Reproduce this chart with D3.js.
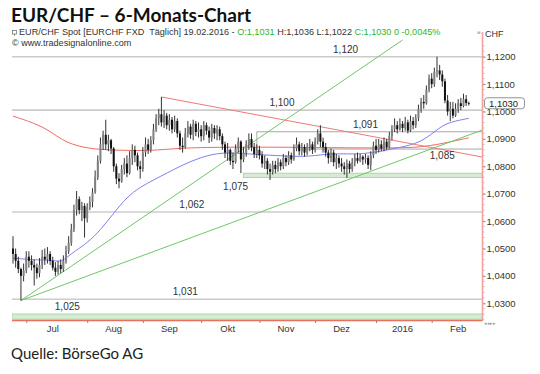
<!DOCTYPE html>
<html>
<head>
<meta charset="utf-8">
<title>EUR/CHF - 6-Monats-Chart</title>
<script src="https://d3js.org/d3.v7.min.js"></script>
<style>
	body { margin: 0; background: #fff; }
	svg { display: block; font-family: "Liberation Sans", Arial, sans-serif; }
	.title { font-family: Lato, "Open Sans", sans-serif; font-weight: bold; font-size: 19px; fill: #111; }
	.source { font-family: Lato, "Open Sans", sans-serif; font-size: 15px; fill: #222; }
	.info { font-size: 9.1px; fill: #333; }
	.lvl { font-size: 10px; fill: #333; }
	.axis text { font-size: 9.5px; fill: #333; }
</style>
</head>
<body>
<svg id="chart" width="540" height="374"></svg>
<script>
// daily bars EUR/CHF, 24.06.2015 - 19.02.2016 (open = previous close)
var firstOpen = 1.0500;
var closes = [
	1.0480, 1.0455, 1.0425, 1.0400, 1.0420, 1.0470, 1.0455, 1.0440, 1.0430, 1.0410,
	1.0440, 1.0470, 1.0460, 1.0480, 1.0455, 1.0430, 1.0415, 1.0440, 1.0425, 1.0455,
	1.0490, 1.0520, 1.0570, 1.0640, 1.0680, 1.0640, 1.0655, 1.0610, 1.0650, 1.0670,
	1.0705, 1.0760, 1.0820, 1.0880, 1.0915, 1.0880, 1.0895, 1.0865, 1.0800, 1.0755,
	1.0745, 1.0790, 1.0810, 1.0775, 1.0830, 1.0860, 1.0840, 1.0800, 1.0790, 1.0850,
	1.0880, 1.0860, 1.0895, 1.0935, 1.0975, 1.0990, 1.0960, 1.0985, 1.0950, 1.0970,
	1.0935, 1.0965, 1.0920, 1.0875, 1.0870, 1.0920, 1.0945, 1.0915, 1.0955, 1.0925,
	1.0935, 1.0910, 1.0950, 1.0930, 1.0905, 1.0940, 1.0920, 1.0935, 1.0910, 1.0880,
	1.0850, 1.0860, 1.0820, 1.0815, 1.0865, 1.0890, 1.0825, 1.0850, 1.0880, 1.0900,
	1.0870, 1.0845, 1.0860, 1.0840, 1.0810, 1.0820, 1.0790, 1.0780, 1.0805, 1.0790,
	1.0815, 1.0800, 1.0830, 1.0815, 1.0840, 1.0825, 1.0865, 1.0880, 1.0855, 1.0870,
	1.0850, 1.0870, 1.0880, 1.0860, 1.0890, 1.0920, 1.0890, 1.0870, 1.0850, 1.0830,
	1.0850, 1.0815, 1.0830, 1.0810, 1.0800, 1.0790, 1.0810, 1.0790, 1.0815, 1.0830,
	1.0820, 1.0835, 1.0825, 1.0830, 1.0805, 1.0840, 1.0875, 1.0860, 1.0880, 1.0865,
	1.0890, 1.0870, 1.0910, 1.0935, 1.0950, 1.0935, 1.0955, 1.0940, 1.0960, 1.0930,
	1.0965, 1.0950, 1.0975, 1.1010, 1.1035, 1.1030, 1.1080, 1.1120, 1.1100, 1.1145,
	1.1150, 1.1135, 1.1110, 1.1040, 1.1000, 1.1010, 1.0985, 1.1010, 1.1030, 1.1020,
	1.1045, 1.1031, 1.1030
];
var highs = [
	1.0545, 1.0500, 1.0470, 1.0430, 1.0445, 1.0490, 1.0490, 1.0475, 1.0460, 1.0445,
	1.0465, 1.0495, 1.0500, 1.0505, 1.0490, 1.0470, 1.0450, 1.0455, 1.0460, 1.0475,
	1.0510, 1.0545, 1.0590, 1.0660, 1.0710, 1.0690, 1.0670, 1.0665, 1.0665, 1.0690,
	1.0720, 1.0785, 1.0840, 1.0905, 1.0930, 1.0970, 1.0915, 1.0900, 1.0870, 1.0810,
	1.0775, 1.0805, 1.0830, 1.0840, 1.0855, 1.0880, 1.0875, 1.0850, 1.0820, 1.0870,
	1.0905, 1.0900, 1.0910, 1.0955, 1.0990, 1.1010, 1.1053, 1.1005, 1.0995, 1.0990,
	1.0980, 1.0985, 1.0975, 1.0930, 1.0905, 1.0940, 1.0965, 1.0955, 1.0970, 1.0965,
	1.0960, 1.0950, 1.0965, 1.0960, 1.0945, 1.0955, 1.0950, 1.0950, 1.0945, 1.0920,
	1.0890, 1.0885, 1.0865, 1.0850, 1.0880, 1.0905, 1.0895, 1.0870, 1.0895, 1.0920,
	1.0920, 1.0885, 1.0880, 1.0875, 1.0855, 1.0840, 1.0830, 1.0810, 1.0820, 1.0820,
	1.0830, 1.0825, 1.0845, 1.0840, 1.0855, 1.0850, 1.0880, 1.0905, 1.0890, 1.0885,
	1.0880, 1.0885, 1.0900, 1.0890, 1.0905, 1.0935, 1.0950, 1.0905, 1.0885, 1.0860,
	1.0865, 1.0860, 1.0845, 1.0840, 1.0830, 1.0815, 1.0825, 1.0820, 1.0830, 1.0845,
	1.0850, 1.0845, 1.0840, 1.0845, 1.0840, 1.0855, 1.0890, 1.0900, 1.0900, 1.0895,
	1.0905, 1.0900, 1.0925, 1.0950, 1.0975, 1.0965, 1.0975, 1.0965, 1.0980, 1.0970,
	1.0985, 1.0980, 1.0990, 1.1025, 1.1050, 1.1060, 1.1095, 1.1135, 1.1140, 1.1160,
	1.1200, 1.1170, 1.1150, 1.1120, 1.1060, 1.1035, 1.1035, 1.1030, 1.1045, 1.1050,
	1.1065, 1.1060, 1.1036
];
var lows = [
	1.0445, 1.0430, 1.0410, 1.0310, 1.0380, 1.0410, 1.0430, 1.0420, 1.0365, 1.0390,
	1.0395, 1.0425, 1.0440, 1.0445, 1.0440, 1.0420, 1.0400, 1.0405, 1.0410, 1.0415,
	1.0445, 1.0480, 1.0510, 1.0560, 1.0620, 1.0625, 1.0600, 1.0540, 1.0595, 1.0640,
	1.0650, 1.0700, 1.0750, 1.0810, 1.0860, 1.0860, 1.0855, 1.0845, 1.0780, 1.0735,
	1.0720, 1.0740, 1.0770, 1.0760, 1.0770, 1.0805, 1.0815, 1.0785, 1.0755, 1.0780,
	1.0835, 1.0845, 1.0850, 1.0880, 1.0925, 1.0950, 1.0945, 1.0940, 1.0935, 1.0930,
	1.0920, 1.0925, 1.0905, 1.0860, 1.0850, 1.0865, 1.0905, 1.0900, 1.0895, 1.0910,
	1.0905, 1.0890, 1.0895, 1.0915, 1.0885, 1.0890, 1.0900, 1.0895, 1.0895, 1.0860,
	1.0830, 1.0820, 1.0805, 1.0790, 1.0810, 1.0850, 1.0775, 1.0815, 1.0835, 1.0860,
	1.0855, 1.0830, 1.0830, 1.0825, 1.0795, 1.0790, 1.0770, 1.0750, 1.0770, 1.0775,
	1.0780, 1.0785, 1.0790, 1.0800, 1.0805, 1.0810, 1.0820, 1.0855, 1.0840, 1.0840,
	1.0835, 1.0840, 1.0855, 1.0845, 1.0850, 1.0880, 1.0870, 1.0850, 1.0835, 1.0810,
	1.0815, 1.0800, 1.0790, 1.0795, 1.0780, 1.0770, 1.0758, 1.0775, 1.0780, 1.0800,
	1.0810, 1.0815, 1.0805, 1.0810, 1.0790, 1.0786, 1.0830, 1.0845, 1.0850, 1.0855,
	1.0855, 1.0860, 1.0865, 1.0895, 1.0925, 1.0920, 1.0930, 1.0925, 1.0930, 1.0920,
	1.0925, 1.0935, 1.0940, 1.0965, 1.0995, 1.1010, 1.1025, 1.1070, 1.1085, 1.1090,
	1.1125, 1.1115, 1.1090, 1.1030, 1.0985, 1.0965, 1.0975, 1.0980, 1.0995, 1.1005,
	1.1015, 1.1020, 1.1022
];

// moving averages, read at bar index
var blueMA = [[0, 1.0465], [8, 1.0458], [14, 1.0458], [18, 1.0451], [20, 1.0465], [24, 1.0495],
	[28, 1.0520], [33, 1.0567], [38, 1.0629], [43, 1.0688], [48, 1.0724], [53, 1.0750],
	[58, 1.0775], [64, 1.0805], [71, 1.0834], [79, 1.0852], [89, 1.0845], [101, 1.0838],
	[112, 1.0834], [120, 1.0849], [132, 1.0841], [145, 1.0867], [154, 1.0885], [161, 1.0943],
	[165, 1.0962], [172, 1.0975]];
var redMA = [[0, 1.0983], [8, 1.0958], [14, 1.0929], [20, 1.0885], [29, 1.0863], [38, 1.0859],
	[52, 1.0856], [63, 1.0867], [79, 1.0870], [102, 1.0870], [127, 1.0867], [145, 1.0867],
	[155, 1.0870], [165, 1.0889], [172, 1.0904]];

// trend lines [from index, value, to index, value]
var greenTrends = [[3, 1.0310, 147, 1.1261], [3, 1.0310, 177, 1.0932]];
var redTrend = [56, 1.1053, 177, 1.0834];

// horizontal marks
var levelValues = [1.1200, 1.1005, 1.0926, 1.0863, 1.0633, 1.0315];
var levelLabels = ['1,120', '1,100', '1,091', '1,085', '1,062', '1,031'];
var levelFrom = [-0.4, -0.4, 92, 110, -0.4, -0.4];
var bandLows = [1.0759, 1.0242];
var bandHighs = [1.0775, 1.0261];
var bandLabels = ['1,075', '1,025'];
var bandFrom = [87, -0.4];

var monthLabels = ['Jul', 'Aug', 'Sep', 'Okt', 'Nov', 'Dez', '2016', 'Feb'];
var axisTicks = [1.03, 1.04, 1.05, 1.06, 1.07, 1.08, 1.09, 1.10, 1.11, 1.12];

// trading days
var days = [];
for (var d = new Date(2015, 5, 24); d <= new Date(2016, 1, 19); d.setDate(d.getDate() + 1)) {
	if (d.getDay() !== 0 && d.getDay() !== 6) days.push(new Date(d));
}
var bars = days.map(function(dt, i) {
	return {date: dt, open: i === 0 ? firstOpen : closes[i - 1], high: highs[i], low: lows[i], close: closes[i]};
});
var monthStarts = [];
bars.forEach(function(b, i) {
	if (i > 0 && b.date.getMonth() !== bars[i - 1].date.getMonth()) monthStarts.push(i);
});

var pLeft = 12, pRight = 482.5, pTop = 30, pBottom = 320.5;
var x = d3.scaleLinear().domain([0, bars.length - 1]).range([13, 468.8]);
var y = d3.scaleLinear().domain([1.03, 1.12]).range([303.3, 56.7]);
var comma = function(f) { return function(v) { return d3.format(f)(v).replace('.', ','); }; };

var svg = d3.select('#chart');
svg.append('rect').attr('width', 540).attr('height', 374).attr('fill', '#fff');

svg.append('defs').append('clipPath').attr('id', 'plot')
	.append('rect').attr('x', pLeft).attr('y', pTop).attr('width', pRight - pLeft).attr('height', pBottom - pTop);

// header
svg.append('text').attr('class', 'title').attr('x', 11).attr('y', 22).text('EUR/CHF \u2013 6-Monats-Chart');
svg.append('rect').attr('x', 12.5).attr('y', 30.5).attr('width', 4).attr('height', 3.5)
	.attr('fill', 'none').attr('stroke', '#666').attr('stroke-width', 0.7);
svg.append('line').attr('x1', 14.5).attr('x2', 14.5).attr('y1', 34).attr('y2', 36).attr('stroke', '#666').attr('stroke-width', 0.7);
var info = svg.append('text').attr('class', 'info').attr('x', 19).attr('y', 35);
info.append('tspan').text('EUR/CHF Spot [EURCHF FXD\u00a0 T\u00e4glich] 19.02.2016 - ');
info.append('tspan').attr('fill', '#2db52d').text('O:1,1031 ');
info.append('tspan').text('H:1,1036 L:1,1022 ');
info.append('tspan').attr('fill', '#2db52d').text('C:1,1030 0 -0,0045%');
svg.append('text').attr('class', 'info').attr('x', 12).attr('y', 46).text('\u00a9 www.tradesignalonline.com');

var plot = svg.append('g').attr('clip-path', 'url(#plot)');

// bands
bandLows.forEach(function(lo, i) {
	plot.append('rect')
		.attr('x', x(bandFrom[i])).attr('width', pRight - x(bandFrom[i]))
		.attr('y', y(bandHighs[i])).attr('height', y(lo) - y(bandHighs[i]))
		.attr('fill', '#d6ebd3').attr('stroke', '#9fd19a').attr('stroke-width', 0.8);
});

// level lines
levelValues.forEach(function(v, i) {
	plot.append('line')
		.attr('x1', x(levelFrom[i])).attr('x2', pRight)
		.attr('y1', y(v)).attr('y2', y(v))
		.attr('stroke', i === 2 || i === 3 ? '#a8a8a8' : '#cccccc')
		.attr('stroke-width', i === 2 || i === 3 ? 1 : 1.6);
});
plot.append('line').attr('x1', x(levelFrom[2])).attr('x2', x(levelFrom[2]))
	.attr('y1', y(levelValues[2])).attr('y2', y(1.0855)).attr('stroke', '#999').attr('stroke-width', 0.8);

// moving averages
var maLine = d3.line().x(function(p) { return x(p[0]); }).y(function(p) { return y(p[1]); }).curve(d3.curveBasis);
plot.append('path').attr('d', maLine(redMA)).attr('fill', 'none').attr('stroke', '#f06a64').attr('stroke-width', 1);
plot.append('path').attr('d', maLine(blueMA)).attr('fill', 'none').attr('stroke', '#7f7ff5').attr('stroke-width', 1);

// trend lines
greenTrends.forEach(function(t) {
	plot.append('line').attr('x1', x(t[0])).attr('y1', y(t[1])).attr('x2', x(t[2])).attr('y2', y(t[3]))
		.attr('stroke', '#72c46c').attr('stroke-width', 1);
});
plot.append('line').attr('x1', x(redTrend[0])).attr('y1', y(redTrend[1])).attr('x2', x(redTrend[2])).attr('y2', y(redTrend[3]))
	.attr('stroke', '#f07a76').attr('stroke-width', 1);

// candles
var candles = plot.selectAll('g.bar').data(bars).enter().append('g').attr('class', 'bar');
candles.append('line')
	.attr('x1', function(b, i) { return x(i); })
	.attr('x2', function(b, i) { return x(i); })
	.attr('y1', function(b) { return y(b.high); })
	.attr('y2', function(b) { return y(b.low); })
	.attr('stroke', '#333').attr('stroke-width', 1);
candles.append('rect')
	.attr('x', function(b, i) { return x(i) - 1; })
	.attr('width', 2)
	.attr('y', function(b) { return y(Math.max(b.open, b.close)); })
	.attr('height', function(b) { return Math.max(0.8, Math.abs(y(b.open) - y(b.close))); })
	.attr('fill', function(b) { return b.close >= b.open ? '#808080' : '#111'; });

// level labels
var levelLabelAt = [[125.5, -4], [101.5, -4], [133, -4], [162, 10], [67.5, -4], [65, -4]];
levelLabels.forEach(function(t, i) {
	svg.append('text').attr('class', 'lvl').attr('text-anchor', 'middle')
		.attr('x', x(levelLabelAt[i][0])).attr('y', y(levelValues[i]) + levelLabelAt[i][1]).text(t);
});
var bandLabelAt = [[84, 12], [20.5, -4]];
bandLabels.forEach(function(t, i) {
	svg.append('text').attr('class', 'lvl').attr('text-anchor', 'middle')
		.attr('x', x(bandLabelAt[i][0]))
		.attr('y', (bandLabelAt[i][1] > 0 ? y(bandLows[i]) : y(bandHighs[i])) + bandLabelAt[i][1]).text(t);
});

// right axis
var minor = d3.range(1.024, 1.1245, 0.002);
svg.append('g').attr('transform', 'translate(' + pRight + ',0)')
	.selectAll('line').data(minor).enter().append('line')
	.attr('x1', 0).attr('x2', 2).attr('y1', function(v) { return y(v); }).attr('y2', function(v) { return y(v); })
	.attr('stroke', '#999').attr('stroke-width', 0.6);
var yAxis = svg.append('g').attr('class', 'axis').attr('transform', 'translate(' + pRight + ',0)')
	.call(d3.axisRight(y).tickValues(axisTicks).tickSize(3).tickPadding(1).tickFormat(comma('.4f')));
yAxis.select('.domain').remove();
yAxis.selectAll('.tick line').attr('stroke', '#888');
svg.append('line').attr('x1', pRight).attr('x2', pRight).attr('y1', pTop + 2).attr('y2', pBottom)
	.attr('stroke', '#f4a0a0').attr('stroke-width', 1.6);
svg.append('text').attr('class', 'info').attr('x', 485).attr('y', 37).style('font-size', '9px').text('CHF');
svg.append('rect').attr('x', 477.5).attr('y', 31.5).attr('width', 3).attr('height', 2.5).attr('fill', '#bbb');

// last price tag
var last = closes[closes.length - 1];
svg.append('rect').attr('x', 484.5).attr('y', y(last) - 5.5).attr('width', 40).attr('height', 11).attr('rx', 3)
	.attr('fill', '#fff').attr('stroke', '#777').attr('stroke-width', 0.8);
svg.append('text').attr('x', 489).attr('y', y(last) + 3.5).style('font-size', '9.5px').attr('fill', '#222')
	.text(comma('.4f')(last));

// bottom axis
svg.append('line').attr('x1', pLeft).attr('x2', pRight).attr('y1', pBottom).attr('y2', pBottom)
	.attr('stroke', '#ee6e5e').attr('stroke-width', 1.4);
var xAxis = svg.append('g').attr('class', 'axis').attr('transform', 'translate(0,' + (pBottom + 0.5) + ')')
	.call(d3.axisBottom(x).tickValues(monthStarts).tickSize(2).tickFormat(''));
xAxis.select('.domain').remove();
xAxis.selectAll('.tick line').attr('stroke', '#888');
svg.selectAll('text.month').data(monthStarts).enter().append('text').attr('class', 'month')
	.attr('x', function(i) { return x(i + 10); }).attr('y', 332)
	.attr('text-anchor', 'middle').style('font-size', '9.5px').attr('fill', '#333')
	.text(function(i, k) { return monthLabels[k]; });
svg.append('text').attr('x', 484).attr('y', 325).style('font-size', '5px').attr('fill', '#999').text('\u25c2\u25c2\u25b8\u25b8');

svg.append('text').attr('class', 'source').attr('x', 11).attr('y', 359).text('Quelle: B\u00f6rseGo AG');
</script>
</body>
</html>
